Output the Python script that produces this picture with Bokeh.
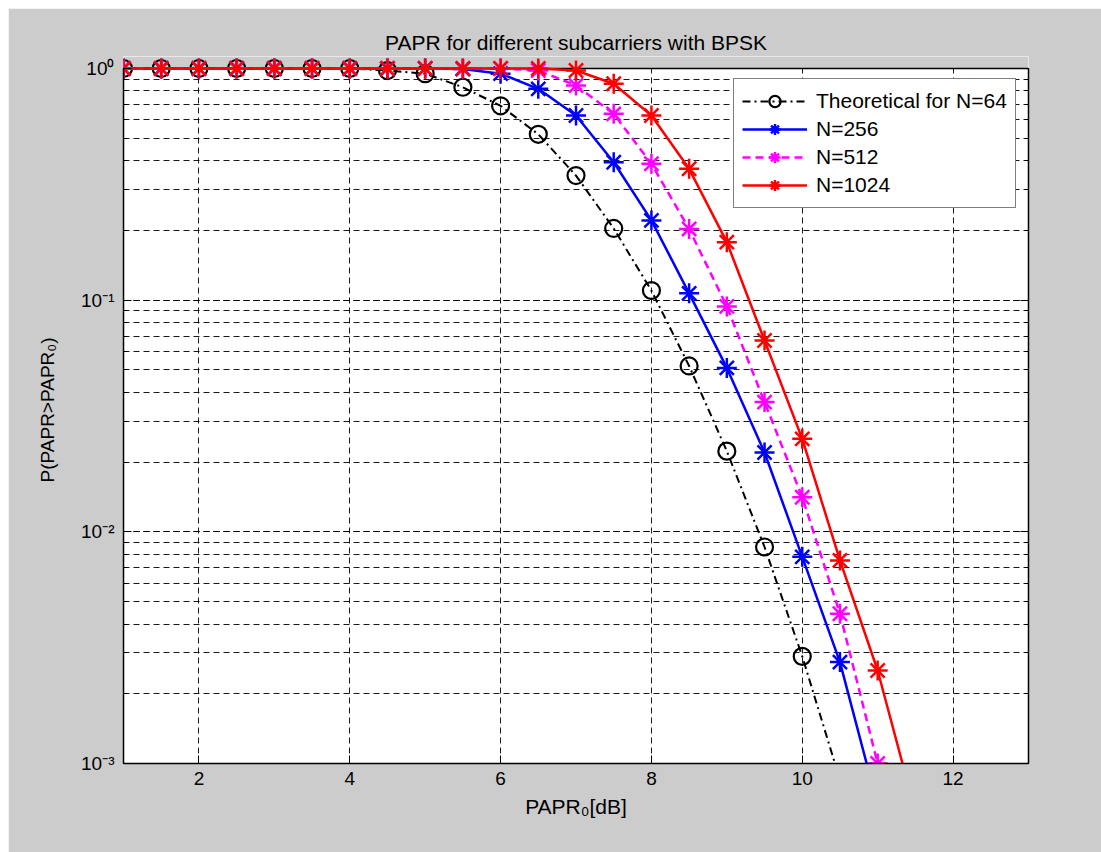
import math
from bokeh.plotting import figure
from bokeh.layouts import column, row
from bokeh.models import (Range1d, LogAxis, FixedTicker, LogTicker, CustomJSTickFormatter,
                          Legend, LegendItem, BoxAnnotation, Span, Spacer)
from bokeh.embed import file_html
from bokeh.resources import INLINE

nan = float("nan")

# ---------------- data ----------------
papr_db = [1.0, 1.5, 2.0, 2.5, 3.0, 3.5, 4.0, 4.5, 5.0, 5.5, 6.0, 6.5,
           7.0, 7.5, 8.0, 8.5, 9.0, 9.5, 10.0, 10.5, 11.0, 11.5]
theo_64 = [1, 1, 1, 1, 1, 1, 1, 0.98, 0.95, 0.83, 0.69, 0.52,
           0.345, 0.204, 0.110, 0.052, 0.0223, 0.0086, 0.0029, 0.00085, nan, nan]
n_256 = [1, 1, 1, 1, 1, 1, 1, 1, 1, 0.995, 0.95, 0.817,
         0.627, 0.394, 0.221, 0.107, 0.051, 0.022, 0.0078, 0.00274, 0.00066, nan]
n_512 = [1, 1, 1, 1, 1, 1, 1, 1, 1, 1, 1, 0.98,
         0.845, 0.637, 0.388, 0.203, 0.094, 0.0363, 0.0141, 0.00443, 0.001, nan]
n_1024 = [1, 1, 1, 1, 1, 1, 1, 1, 1, 1, 1, 1,
          0.98, 0.859, 0.627, 0.369, 0.178, 0.067, 0.0252, 0.00753, 0.00252, 0.00062]

x_ticks = [2, 4, 6, 8, 10, 12]
x_lim = (1, 13)
y_lim = (1e-3, 1.0)
labels = ["Theoretical for N=64", "N=256", "N=512", "N=1024"]
title_text = "PAPR for different subcarriers with BPSK"
x_label = "PAPR\u2080[dB]"
y_label = "P(PAPR>PAPR\u2080)"

# ---------------- styling ----------------
FONT = "Liberation Sans"
GRAY = "#cccccc"
DECADE_PX = 231.7
EXTRA_TOP_PX = 12  # room so markers at 10^0 are not cut
y_top = y_lim[1] * 10 ** (EXTRA_TOP_PX / DECADE_PX)

p = figure(width=1093, height=844, output_backend="svg", toolbar_location=None,
           x_range=Range1d(*x_lim), y_range=Range1d(y_lim[0], y_top),
           y_axis_type="log",
           min_border_left=115, min_border_right=73, min_border_top=48,
           min_border_bottom=89)
p.border_fill_color = GRAY
p.background_fill_color = "white"
p.outline_line_color = None

p.title.text = title_text
p.title.align = "center"
p.title.text_font = FONT
p.title.text_font_size = "21px"
p.title.text_font_style = "normal"
p.title.text_color = "black"
p.title.standoff = 6

# x axis
xa = p.xaxis[0]
xa.ticker = FixedTicker(ticks=x_ticks)
xa.major_tick_in = 8
xa.major_tick_out = 0
xa.minor_tick_line_color = None
xa.axis_line_width = 1.5
xa.major_label_text_font = FONT
xa.major_label_text_font_size = "19px"
xa.major_label_text_color = "black"
xa.major_label_standoff = 8
xa.axis_label = x_label
xa.axis_label_text_font = FONT
xa.axis_label_text_font_size = "21px"
xa.axis_label_text_font_style = "normal"
xa.axis_label_text_color = "black"
xa.axis_label_standoff = 7

sup_code = """
const e = Math.round(Math.log10(tick));
const sup = {"0":"\u2070","1":"\u00b9","2":"\u00b2","3":"\u00b3","-":"\u207b"};
return "10" + String(e).split("").map(c => sup[c]).join("");
"""

ya = p.yaxis[0]
ya.ticker = LogTicker(num_minor_ticks=10)
ya.formatter = CustomJSTickFormatter(code=sup_code)
ya.bounds = y_lim
ya.major_tick_in = 8
ya.major_tick_out = 0
ya.minor_tick_in = 4
ya.minor_tick_out = 0
ya.axis_line_width = 1.5
ya.major_label_text_font = FONT
ya.major_label_text_font_size = "19px"
ya.major_label_text_color = "black"
ya.major_label_standoff = 9
ya.axis_label = y_label
ya.axis_label_text_font = FONT
ya.axis_label_text_font_size = "19px"
ya.axis_label_text_font_style = "normal"
ya.axis_label_text_color = "black"
ya.axis_label_standoff = 20

ra = LogAxis(ticker=LogTicker(num_minor_ticks=10), bounds=y_lim,
             major_tick_in=8, major_tick_out=0, minor_tick_in=4, minor_tick_out=0,
             axis_line_width=1.5, major_label_text_color=None,
             major_label_text_font_size="1px")
p.add_layout(ra, "right")

# grid
for g in (p.xgrid[0], p.ygrid[0]):
    g.grid_line_color = "black"
    g.grid_line_dash = "6 4"
    g.grid_line_width = 1
    g.grid_line_alpha = 0.9
p.ygrid[0].minor_grid_line_color = "black"
p.ygrid[0].minor_grid_line_dash = "6 4"
p.ygrid[0].minor_grid_line_alpha = 0.9
p.xgrid[0].ticker = FixedTicker(ticks=x_ticks)

# grey strip above 10^0 and top border at 10^0
p.add_layout(BoxAnnotation(bottom=y_lim[1], fill_color=GRAY, fill_alpha=1,
                           line_color=None, level="underlay"))
p.add_layout(Span(location=y_lim[1], dimension="width", line_color="black",
                  line_width=1.5, level="underlay"))

# series
series = [
    (theo_64, "black", "dashdot", "circle"),
    (n_256, "blue", "solid", "asterisk"),
    (n_512, "#ff00ff", "dashed", "asterisk"),
    (n_1024, "red", "solid", "asterisk"),
]
dash_map = {"solid": "solid", "dashed": "8 5", "dashdot": "8 4 2 4"}
items = []
for (vals, col, dash, mk), lab in zip(series, labels):
    lw = 2 if mk == "circle" else 2.5
    lr = p.line(papr_db, vals, line_color=col, line_width=lw, line_dash=dash_map[dash])
    if mk == "circle":
        sr = p.scatter(papr_db, vals, marker="circle", size=17, fill_color=None,
                       line_color=col, line_width=2.2)
    else:
        sr = p.scatter(papr_db, vals, marker="asterisk", size=20,
                       line_color=col, line_width=2.5)
    items.append(LegendItem(label=lab, renderers=[lr, sr]))

legend = Legend(items=items, location=(610, 555), padding=8, spacing=0,
                glyph_width=65, glyph_height=28, label_standoff=9, margin=0,
                label_text_font=FONT, label_text_font_size="21px",
                label_text_color="black", border_line_color="black",
                border_line_width=1, background_fill_color="white",
                background_fill_alpha=1)
p.add_layout(legend, "center")

layout = column(Spacer(height=8), row(Spacer(width=8), p))
open("out.html", "w").write(file_html(layout, INLINE))
